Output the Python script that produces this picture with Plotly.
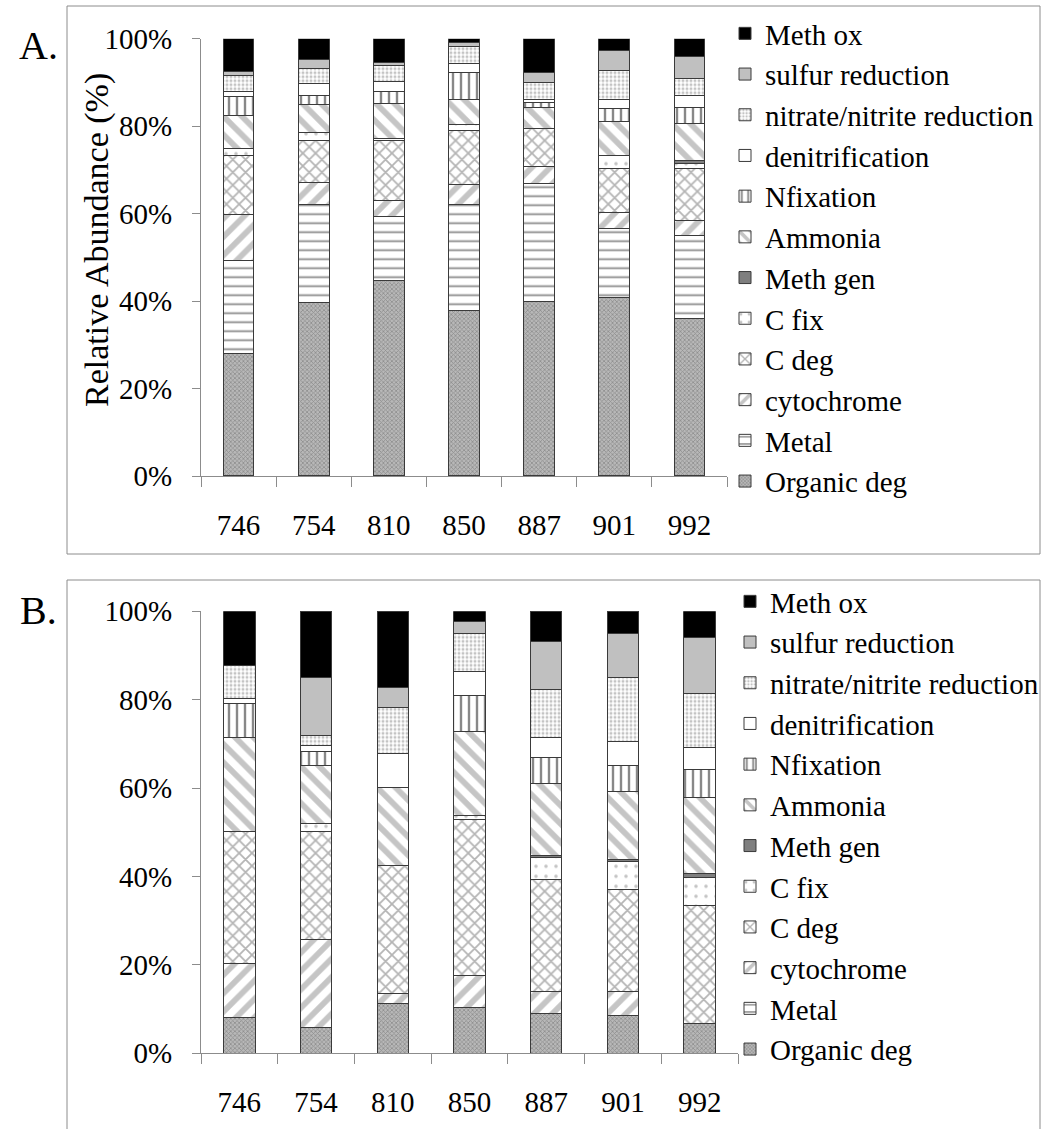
import plotly.graph_objects as go

sites = ["746", "754", "810", "850", "887", "901", "992"]

# stacking order bottom -> top
categories = ["Organic deg", "Metal", "cytochrome", "C deg", "C fix", "Meth gen",
              "Ammonia", "Nfixation", "denitrification", "nitrate/nitrite reduction",
              "sulfur reduction", "Meth ox"]

# Panel A values (%) per category, per site
a_organic = [28.0, 39.6, 44.7, 37.8, 40.0, 40.8, 36.1]
a_metal = [21.2, 22.5, 14.6, 24.2, 26.9, 15.7, 18.9]
a_cyto = [10.6, 5.0, 3.7, 4.7, 3.8, 3.8, 3.4]
a_cdeg = [13.6, 9.6, 13.8, 12.2, 8.8, 10.1, 12.0]
a_cfix = [1.5, 1.8, 0.3, 1.4, 0.0, 2.8, 1.1]
a_methgen = [0.0, 0.0, 0.0, 0.0, 0.0, 0.0, 0.6]
a_ammonia = [7.5, 6.5, 8.1, 5.7, 4.7, 7.8, 8.5]
a_nfix = [4.3, 2.1, 2.8, 6.2, 1.2, 3.1, 3.7]
a_denit = [1.3, 2.7, 2.3, 2.2, 0.7, 2.0, 2.6]
a_nitrate = [3.5, 3.3, 3.5, 3.9, 3.9, 6.6, 3.9]
a_sulfur = [1.1, 2.2, 0.7, 0.9, 2.2, 4.5, 5.1]
a_methox = [7.4, 4.7, 5.5, 0.8, 7.8, 2.8, 4.1]

# Panel B values (%)
b_organic = [8.1, 5.9, 11.3, 10.4, 9.0, 8.5, 6.8]
b_metal = [0.0, 0.0, 0.0, 0.0, 0.0, 0.0, 0.0]
b_cyto = [12.3, 19.9, 2.3, 7.3, 5.0, 5.5, 0.0]
b_cdeg = [29.8, 24.4, 28.9, 35.2, 25.4, 23.1, 26.7]
b_cfix = [0.0, 1.8, 0.0, 0.9, 4.9, 6.3, 6.3]
b_methgen = [0.0, 0.0, 0.0, 0.0, 0.5, 0.5, 0.9]
b_ammonia = [21.3, 13.1, 17.6, 19.0, 16.2, 15.3, 17.1]
b_nfix = [7.7, 3.2, 0.0, 8.1, 6.0, 5.9, 6.5]
b_denit = [1.0, 1.4, 7.7, 5.4, 4.4, 5.4, 4.9]
b_nitrate = [7.5, 2.2, 10.4, 8.7, 11.0, 14.5, 12.2]
b_sulfur = [0.0, 13.1, 4.5, 2.7, 10.7, 10.0, 12.6]
b_methox = [12.3, 15.0, 17.3, 2.3, 6.9, 5.0, 6.0]

panel_a = [a_organic, a_metal, a_cyto, a_cdeg, a_cfix, a_methgen, a_ammonia,
           a_nfix, a_denit, a_nitrate, a_sulfur, a_methox]
panel_b = [b_organic, b_metal, b_cyto, b_cdeg, b_cfix, b_methgen, b_ammonia,
           b_nfix, b_denit, b_nitrate, b_sulfur, b_methox]

y_ticks = [0, 20, 40, 60, 80, 100]
y_tick_labels = ["0%", "20%", "40%", "60%", "80%", "100%"]

# styles: (fill colour, pattern dict)
styles = {
    "Organic deg": dict(color="#a8a8a8", pattern=dict(shape="x", fgcolor="#626262", bgcolor="#b8b8b8", size=3, solidity=0.45)),
    "Metal": dict(color="white", pattern=dict(shape="-", fgcolor="#1a1a1a", bgcolor="white", size=9, solidity=0.2)),
    "cytochrome": dict(color="white", pattern=dict(shape="/", fgcolor="#8c8c8c", bgcolor="white", size=13, solidity=0.45)),
    "C deg": dict(color="white", pattern=dict(shape="x", fgcolor="#6a6a6a", bgcolor="white", size=9, solidity=0.35)),
    "C fix": dict(color="white", pattern=dict(shape=".", fgcolor="#8a8a8a", bgcolor="white", size=10, solidity=0.1)),
    "Meth gen": dict(color="#7f7f7f", pattern=dict(shape="")),
    "Ammonia": dict(color="white", pattern=dict(shape="\\", fgcolor="#8c8c8c", bgcolor="white", size=13, solidity=0.45)),
    "Nfixation": dict(color="white", pattern=dict(shape="|", fgcolor="#111111", bgcolor="white", size=8, solidity=0.3)),
    "denitrification": dict(color="white", pattern=dict(shape="")),
    "nitrate/nitrite reduction": dict(color="white", pattern=dict(shape=".", fgcolor="#8a8a8a", bgcolor="white", size=4, solidity=0.45)),
    "sulfur reduction": dict(color="#c0c0c0", pattern=dict(shape="")),
    "Meth ox": dict(color="#000000", pattern=dict(shape="")),
}

FONT = "Liberation Serif"
W, H = 1045, 1129

fig = go.Figure()

for name, vals in zip(categories, panel_a):
    st = styles[name]
    fig.add_trace(go.Bar(
        x=sites, y=vals, name=name, xaxis="x", yaxis="y", legend="legend",
        marker=dict(color=st["color"], pattern=st["pattern"],
                    line=dict(color="#3a3a3a", width=1)),
        hoverinfo="name+y",
    ))

for name, vals in zip(categories, panel_b):
    st = styles[name]
    fig.add_trace(go.Bar(
        x=sites, y=vals, name=name, xaxis="x2", yaxis="y2", legend="legend2",
        marker=dict(color=st["color"], pattern=st["pattern"],
                    line=dict(color="#3a3a3a", width=1)),
        hoverinfo="name+y",
    ))

axis_gray = "#8c8c8c"
tickfont = dict(family=FONT, size=29, color="black")

def xaxis_cfg(dom, anchor):
    return dict(domain=dom, anchor=anchor, type="category", showline=True,
                linecolor=axis_gray, linewidth=1, ticks="outside", tickson="boundaries",
                ticklen=10, tickcolor=axis_gray, tickfont=tickfont, showgrid=False,
                ticklabelstandoff=23, zeroline=False, automargin=False)

def yaxis_cfg(dom, anchor):
    return dict(domain=dom, anchor=anchor, range=[0, 100], tickvals=y_ticks,
                ticktext=y_tick_labels, showline=True, linecolor=axis_gray, linewidth=1,
                ticks="outside", ticklen=8, tickcolor=axis_gray, tickfont=tickfont,
                showgrid=False, zeroline=False, ticklabelstandoff=14, automargin=False)

def px_x(p):
    return p / W

def px_y(p):
    return 1 - p / H

fig.update_layout(
    width=W, height=H,
    margin=dict(l=0, r=0, t=0, b=0, pad=0, autoexpand=False),
    paper_bgcolor="white", plot_bgcolor="white",
    barmode="stack", bargap=0.59,
    font=dict(family=FONT, color="black"),
    showlegend=True,
    xaxis=xaxis_cfg([px_x(201), px_x(727)], "y"),
    yaxis=yaxis_cfg([px_y(476), px_y(38.7)], "x"),
    xaxis2=xaxis_cfg([px_x(201), px_x(738)], "y2"),
    yaxis2=yaxis_cfg([px_y(1053.3), px_y(611.3)], "x2"),
    legend=dict(x=px_x(725), y=px_y(8), xanchor="left", yanchor="top",
                traceorder="reversed", font=dict(family=FONT, size=29, color="black"),
                bgcolor="rgba(0,0,0,0)", borderwidth=0, tracegroupgap=0),
    legend2=dict(x=px_x(730), y=px_y(576), xanchor="left", yanchor="top",
                 traceorder="reversed", font=dict(family=FONT, size=29, color="black"),
                 bgcolor="rgba(0,0,0,0)", borderwidth=0, tracegroupgap=0),
    shapes=[
        dict(type="rect", xref="paper", yref="paper", x0=px_x(67), x1=px_x(1040),
             y0=px_y(554), y1=px_y(6), line=dict(color=axis_gray, width=1), layer="below"),
        dict(type="rect", xref="paper", yref="paper", x0=px_x(67), x1=px_x(1040),
             y0=px_y(1140), y1=px_y(580), line=dict(color=axis_gray, width=1), layer="below"),
    ],
    annotations=[
        dict(text="A.", xref="paper", yref="paper", x=px_x(38), y=px_y(45),
             xanchor="center", yanchor="middle",
             showarrow=False, font=dict(family=FONT, size=40, color="black")),
        dict(text="B.", xref="paper", yref="paper", x=px_x(38), y=px_y(610),
             xanchor="center", yanchor="middle",
             showarrow=False, font=dict(family=FONT, size=40, color="black")),
        dict(text="Relative Abundance (%)", xref="paper", yref="paper",
             x=px_x(97), y=px_y(240), textangle=-90, showarrow=False,
             xanchor="center", yanchor="middle",
             font=dict(family=FONT, size=34, color="black")),
    ],
)

fig.write_html("out.html")
